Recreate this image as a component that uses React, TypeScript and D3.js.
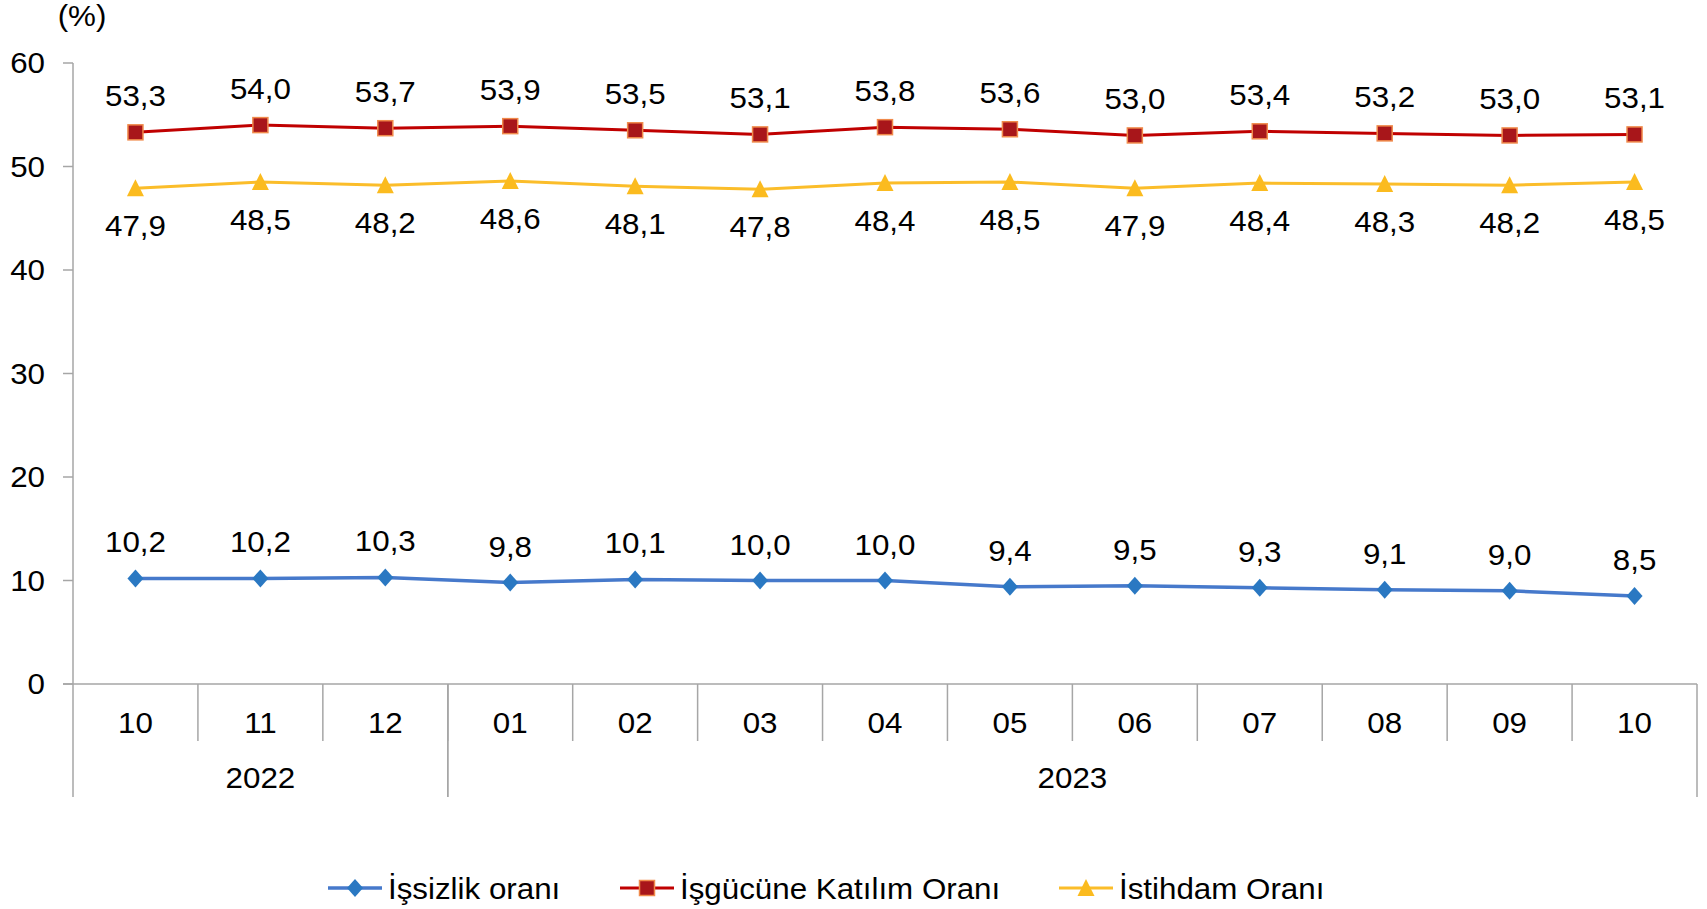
import React from 'react';
import * as d3 from 'd3';

const months = ['10', '11', '12', '01', '02', '03', '04', '05', '06', '07', '08', '09', '10'];
const years = [
  { label: '2022', count: 3 },
  { label: '2023', count: 10 },
];
const unemployment = [10.2, 10.2, 10.3, 9.8, 10.1, 10.0, 10.0, 9.4, 9.5, 9.3, 9.1, 9.0, 8.5];
const participation = [53.3, 54.0, 53.7, 53.9, 53.5, 53.1, 53.8, 53.6, 53.0, 53.4, 53.2, 53.0, 53.1];
const employment = [47.9, 48.5, 48.2, 48.6, 48.1, 47.8, 48.4, 48.5, 47.9, 48.4, 48.3, 48.2, 48.5];
const yTicks = [0, 10, 20, 30, 40, 50, 60];
const legendNames = ['İşsizlik oranı', 'İşgücüne Katılım Oranı', 'İstihdam Oranı'];

const W = 1707;
const H = 909;
const FONT = '"Liberation Sans", Arial, sans-serif';
const AXIS = '#a6a6a6';
const FS = 29;

const fmt = (v: number) => v.toFixed(1).replace('.', ',');

// text is a bit wider than its height in the original, so stretch it slightly
const T = ({ x, y, anchor = 'middle', dy, children }: any) => (
  <text transform={`translate(${x},${y}) scale(1.08,1)`} fontSize={FS} textAnchor={anchor} dy={dy} fill="#000">
    {children}
  </text>
);

const Diamond = ({ x, y }: { x: number; y: number }) => (
  <path d={`M${x},${y - 9}L${x + 8},${y}L${x},${y + 9}L${x - 8},${y}Z`} fill="#2a78c2" />
);
const Square = ({ x, y }: { x: number; y: number }) => (
  <rect x={x - 7.5} y={y - 7.5} width={15} height={15} fill="#a8161a" stroke="#f08a4b" strokeWidth={1.5} />
);
const Triangle = ({ x, y }: { x: number; y: number }) => (
  <path d={`M${x},${y - 9}L${x + 8.5},${y + 8}L${x - 8.5},${y + 8}Z`} fill="#fbbb1f" />
);

export default function App() {
  const x = d3.scaleBand<number>().domain(d3.range(months.length)).range([73, 1697]);
  const y = d3.scaleLinear().domain([0, 60]).range([684, 63]);
  const cx = (i: number) => (x(i) as number) + x.bandwidth() / 2;
  const line = d3.line<number>().x((_, i) => cx(i)).y(d => y(d));

  const series = [
    { values: unemployment, color: '#4679cb', width: 3.5, Marker: Diamond, dy: -26 },
    { values: participation, color: '#c00000', width: 3, Marker: Square, dy: -26 },
    { values: employment, color: '#fbbd2a', width: 3, Marker: Triangle, dy: 48 },
  ];

  // year group boundaries
  let acc = 0;
  const yearBlocks = years.map(yr => {
    const start = acc;
    acc += yr.count;
    return { ...yr, start, end: acc };
  });

  const legendX = [328, 620, 1059];
  const legendY = 888;

  return (
    <div style={{ position: 'fixed', left: 0, top: 0 }}>
      <svg width={W} height={H} style={{ display: 'block', background: '#fff' }} fontFamily={FONT}>
        <T x={82} y={26}>(%)</T>

        {/* y axis */}
        <line x1={73} x2={73} y1={y(60)} y2={y(0)} stroke={AXIS} strokeWidth={1.5} />
        {yTicks.map(t => (
          <g key={t}>
            <line x1={63} x2={73} y1={y(t)} y2={y(t)} stroke={AXIS} strokeWidth={1.5} />
            <T x={45} y={y(t)} dy="0.35em" anchor="end">{t}</T>
          </g>
        ))}

        {/* x axis */}
        <line x1={63} x2={1697} y1={y(0)} y2={y(0)} stroke={AXIS} strokeWidth={1.5} />
        {months.map((m, i) => (
          <g key={i}>
            {i > 0 && (
              <line x1={x(i)} x2={x(i)} y1={y(0)} y2={741} stroke={AXIS} strokeWidth={1.5} />
            )}
            <T x={cx(i)} y={733}>{m}</T>
          </g>
        ))}
        {yearBlocks.map(b => {
          const x0 = x(b.start) as number;
          const x1 = b.end === months.length ? 1697 : (x(b.end) as number);
          return (
            <g key={b.label}>
              <line x1={x0} x2={x0} y1={y(0)} y2={797} stroke={AXIS} strokeWidth={1.5} />
              <line x1={x1} x2={x1} y1={y(0)} y2={797} stroke={AXIS} strokeWidth={1.5} />
              <T x={(x0 + x1) / 2} y={788}>{b.label}</T>
            </g>
          );
        })}

        {/* series */}
        {series.map((s, k) => (
          <g key={k}>
            <path d={line(s.values) || ''} fill="none" stroke={s.color} strokeWidth={s.width} />
            {s.values.map((v, i) => (
              <s.Marker key={i} x={cx(i)} y={y(v)} />
            ))}
            {s.values.map((v, i) => (
              <T key={'t' + i} x={cx(i)} y={y(v) + s.dy}>{fmt(v)}</T>
            ))}
          </g>
        ))}

        {/* legend */}
        {series.map((s, k) => (
          <g key={'l' + k}>
            <line x1={legendX[k]} x2={legendX[k] + 54} y1={legendY} y2={legendY} stroke={s.color} strokeWidth={s.width} />
            <s.Marker x={legendX[k] + 27} y={legendY} />
            <T x={legendX[k] + 60} y={legendY + 11} anchor="start">{legendNames[k]}</T>
          </g>
        ))}
      </svg>
    </div>
  );
}
